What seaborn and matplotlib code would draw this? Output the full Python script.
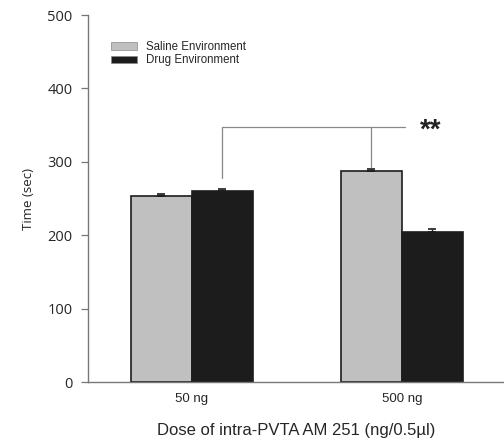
import matplotlib
matplotlib.use("Agg")
import matplotlib.pyplot as plt
import seaborn as sns
import pandas as pd

# Data
doses = ["50 ng", "500 ng"]
environments = ["Saline Environment", "Drug Environment"]
saline_means = [253, 287]
drug_means = [260, 205]
saline_sem = [3, 3]
drug_sem = [3, 3]

df = pd.DataFrame({
    "dose": doses * 2,
    "env": [environments[0]] * 2 + [environments[1]] * 2,
    "time": saline_means + drug_means,
})
errs = saline_sem + drug_sem

sns.set_theme(style="white")
plt.rcParams["font.family"] = ["Liberation Sans", "DejaVu Sans"]

fig = plt.figure(figsize=(5.04, 4.47), dpi=100)
ax = fig.add_axes([0.1746, 0.1454, 0.8254, 0.821])

palette = {environments[0]: "#c0c0c0", environments[1]: "#1c1c1c"}
sns.barplot(data=df, x="dose", y="time", hue="env", order=doses,
            hue_order=environments, palette=palette, width=0.58,
            edgecolor="#1c1c1c", linewidth=1.2, errorbar=None, ax=ax)

# Error bars (upper half) centred on each bar
bars = sorted([p for p in ax.patches if p.get_height() > 0], key=lambda p: p.get_x())
for p in bars:
    cx = p.get_x() + p.get_width() / 2
    h = p.get_height()
    idx = list(df["time"]).index(h)
    ax.errorbar(cx, h, yerr=[[0], [errs[idx]]], fmt="none", ecolor="#1c1c1c",
                elinewidth=1.0, capsize=3, capthick=1.2)

centers = [p.get_x() + p.get_width() / 2 for p in bars]
# significance bracket: drug 50 ng vs saline 500 ng
x_left = centers[1]
x_right = centers[2]
y_br = 348
ax.plot([x_left, x_left], [drug_means[0] + 18, y_br], color="#888888", lw=0.9)
ax.plot([x_right, x_right], [saline_means[1] + 6, y_br], color="#888888", lw=0.9)
ax.plot([x_left, x_right + 0.16], [y_br, y_br], color="#888888", lw=0.9)
ax.text(x_right + 0.28, y_br - 6, "**", fontsize=20, fontweight="bold",
        ha="center", va="center", color="#222222")

ax.set_ylim(0, 500)
ax.set_xlim(-0.495, 1.486)
ax.set_yticks([0, 100, 200, 300, 400, 500])
ax.tick_params(axis="y", labelsize=10.5, length=5, width=0.9, color="#777777",
               left=True, pad=6)
ax.tick_params(axis="x", labelsize=9.5, length=0, pad=8)
for lab in ax.get_yticklabels():
    lab.set_family(["Open Sans", "DejaVu Sans"])

for s in ["top", "right"]:
    ax.spines[s].set_visible(False)
for s in ["left", "bottom"]:
    ax.spines[s].set_color("#777777")
    ax.spines[s].set_linewidth(1.0)

ax.set_ylabel("Time (sec)", fontsize=9.5, labelpad=9,
              family=["Open Sans", "DejaVu Sans"])
ax.set_xlabel("Dose of intra-PVTA AM 251 (ng/0.5µl)", fontsize=12, labelpad=13)

leg = ax.legend(loc="upper left", bbox_to_anchor=(0.055, 0.93), frameon=False,
                fontsize=8.3, handlelength=2.25, handleheight=0.65,
                labelspacing=0.15, borderaxespad=0, borderpad=0,
                handletextpad=0.8)
for h in leg.legend_handles:
    h.set_edgecolor("#888888")
    h.set_linewidth(0.5)

fig.savefig("out.png", dpi=100)
